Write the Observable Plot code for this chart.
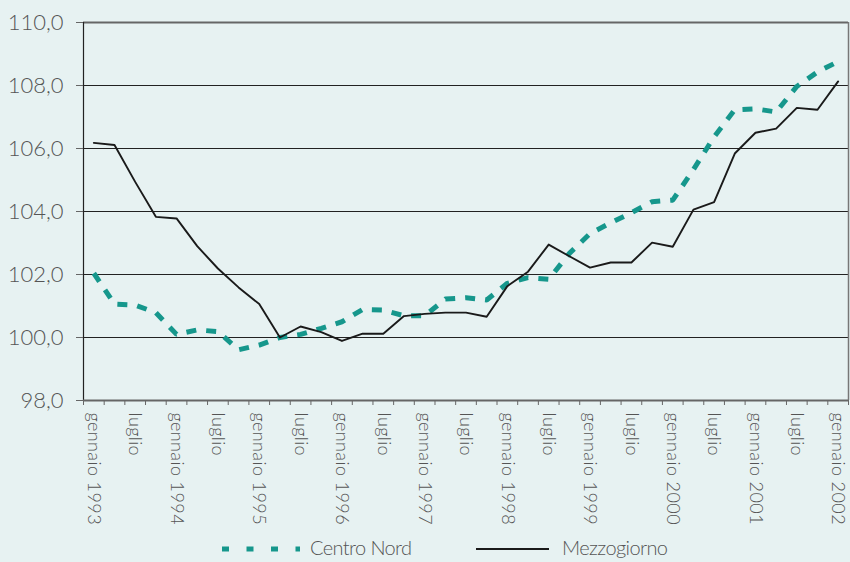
<!DOCTYPE html>
<html>
<head>
<meta charset="utf-8">
<script src="https://cdn.jsdelivr.net/npm/d3@7"></script>
<script src="https://cdn.jsdelivr.net/npm/@observablehq/plot@0.6"></script>
<style>
  html, body { margin: 0; padding: 0; background: #e7f2f2; }
  #wrap { position: relative; width: 850px; height: 562px; overflow: hidden; font-family: "Lato", sans-serif; font-weight: 300; color: #555; }
  #legend { position: absolute; left: 0; top: 530px; width: 850px; height: 32px; }
  #legend .lab { position: absolute; top: 6px; font-size: 20px; letter-spacing: -0.6px; line-height: 22px; color: #555; }
  #legend svg { position: absolute; top: 0; }
  .xlab text { letter-spacing: 0.4px; }
</style>
</head>
<body>
<div id="wrap">
  <div id="chart"></div>
  <div id="legend"></div>
</div>
<script>
const seriesNames = ["Centro Nord", "Mezzogiorno"];
const tickLabels = ["gennaio 1993","luglio","gennaio 1994","luglio","gennaio 1995","luglio","gennaio 1996","luglio","gennaio 1997","luglio","gennaio 1998","luglio","gennaio 1999","luglio","gennaio 2000","luglio","gennaio 2001","luglio","gennaio 2002"];
const centroNord = [102.04,101.06,101.03,100.79,100.10,100.24,100.19,99.61,99.76,100.0,
  100.1,100.29,100.50,100.89,100.87,100.69,100.69,101.22,101.26,101.19,
  101.72,101.90,101.85,102.67,103.30,103.64,103.96,104.31,104.36,105.33,
  106.37,107.23,107.26,107.16,107.97,108.43,108.76];
const mezzogiorno = [106.18,106.11,104.94,103.83,103.78,102.90,102.19,101.59,101.06,100.0,
  100.35,100.17,99.89,100.12,100.12,100.68,100.75,100.79,100.79,100.66,
  101.63,102.09,102.95,102.58,102.22,102.38,102.38,103.01,102.88,104.06,
  104.30,105.84,106.50,106.63,107.29,107.23,108.13];
const yTicks = [98,100,102,104,106,108,110];

const teal = "#16978c";
const cn = centroNord.map((v, i) => ({i, v}));
const mz = mezzogiorno.map((v, i) => ({i, v}));
const labelIdx = tickLabels.map((_, k) => k * 2);
const boundaries = d3.range(-0.5, 37, 1);

const fmt = v => v.toFixed(1).replace(".", ",");

const plot = Plot.plot({
  width: 850,
  height: 530,
  marginLeft: 83,
  marginRight: 2,
  marginTop: 22,
  marginBottom: 130,
  style: {background: "transparent", fontFamily: "Lato, sans-serif", color: "#555"},
  x: {type: "linear", domain: [-0.5, 36.5]},
  y: {domain: [98, 110]},
  marks: [
    Plot.gridY(yTicks, {stroke: "#222", strokeOpacity: 1, strokeWidth: 1}),
    Plot.ruleY([110], {stroke: "#666", strokeWidth: 2}),
    Plot.ruleX([36.5], {stroke: "#777", strokeWidth: 1.5}),
    Plot.ruleX([-0.5], {stroke: "#222", strokeWidth: 1.2}),
    Plot.ruleY([98], {stroke: "#666", strokeWidth: 2}),
    Plot.axisY({ticks: yTicks, tickFormat: fmt, tickSize: 7, tickPadding: 13, fontSize: 22, fontWeight: 300, stroke: "#666", fill: "#555", label: null}),
    Plot.axisX({ticks: boundaries, tickFormat: () => "", tickSize: 5, stroke: "#666", label: null}),
    Plot.axisX({ticks: labelIdx, tickFormat: d => tickLabels[d / 2], tickSize: 0, tickPadding: 12, tickRotate: 90, fontSize: 18, fontWeight: 300, fill: "#555", label: null, className: "xlab"}),
    Plot.line(cn, {x: "i", y: "v", stroke: teal, strokeWidth: 5, strokeDasharray: "10,10", strokeLinecap: "butt", strokeLinejoin: "miter"}),
    Plot.line(mz, {x: "i", y: "v", stroke: "#1a1a1a", strokeWidth: 1.9})
  ]
});
document.getElementById("chart").appendChild(plot);

const legend = document.getElementById("legend");
legend.innerHTML = `
  <svg width="850" height="32" style="left:0">
    <line x1="222" x2="300" y1="19" y2="19" stroke="${teal}" stroke-width="5" stroke-dasharray="7,17.5"/>
    <line x1="476" x2="549" y1="19" y2="19" stroke="#1a1a1a" stroke-width="2"/>
  </svg>
  <div class="lab" style="left:310px">${seriesNames[0]}</div>
  <div class="lab" style="left:562px">${seriesNames[1]}</div>`;
</script>
</body>
</html>
